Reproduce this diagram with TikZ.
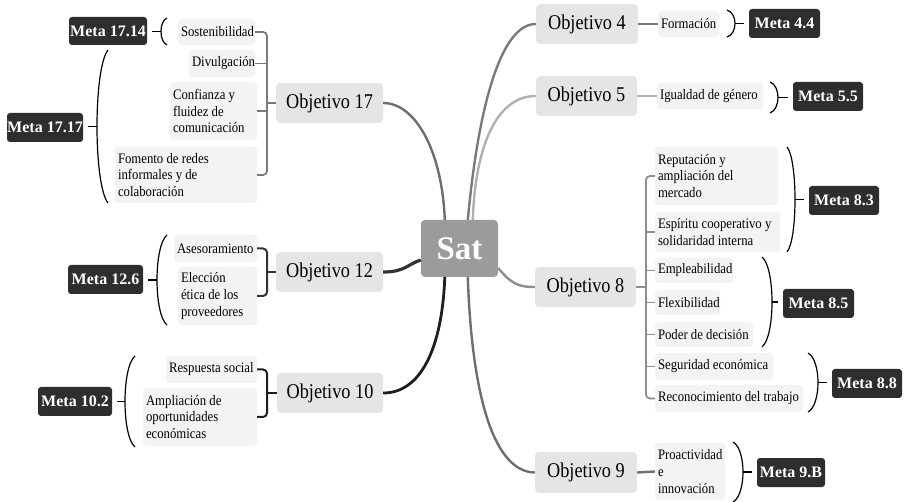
\documentclass[tikz,border=0pt]{standalone}
\usepackage{fontspec}
\setmainfont{Liberation Serif}
\newfontfamily\objfont{Liberation Serif}[FakeStretch=0.87]
\newfontfamily\leaffontfam{Liberation Serif}[FakeStretch=0.88]
\definecolor{satgray}{HTML}{9B9B9B}
\definecolor{objgray}{HTML}{E5E5E5}
\definecolor{leafgray}{HTML}{F3F3F3}
\definecolor{metadark}{HTML}{2E2E2E}
\definecolor{cA}{HTML}{6E6E6E}
\definecolor{cB}{HTML}{333333}
\definecolor{cC}{HTML}{1E1E1E}
\definecolor{cD}{HTML}{7A7A7A}
\definecolor{cE}{HTML}{B0B0B0}
\definecolor{cF}{HTML}{8E8E8E}
\newcommand\mmBrace[6]{% name, xtip, xbelly, ytop, ybot, target
  \pgfmathsetmacro\mmym{(#4+#5)/2}
  \pgfmathsetmacro\mmxc{(4*#3-#2)/3}
  \pgfmathsetmacro\mmya{#4+0.12*(#5-#4)}
  \pgfmathsetmacro\mmyb{#5-0.12*(#5-#4)}
  \coordinate (#1) at (#3,\mmym);
  \draw[bracestyle] (#2,#4) .. controls (\mmxc,\mmya) and (\mmxc,\mmyb) .. (#2,#5);
  \draw[bracestyle, shorten >=5pt] (#1) -- (#1 -| #6);
}
\tikzset{
  objbox/.style={fill=objgray, rounded corners=4pt, font=\objfont\fontsize{21}{24}\selectfont, inner sep=0pt,
    execute at begin node={\spaceskip=4.6pt\relax}},
  leaf/.style={fill=leafgray, rounded corners=3pt, inner xsep=3pt, inner ysep=0pt, align=left,
    font=\leaffontfam\fontsize{14.5}{16.7}\selectfont,
    execute at begin node={\spaceskip=3.2pt\relax\hyphenpenalty=10000\relax\exhyphenpenalty=10000\relax}},
  meta/.style={fill=metadark, rounded corners=3pt, text=white, inner sep=0pt,
    font=\bfseries\fontsize{16}{18}\selectfont},
  bracestyle/.style={draw=black, line width=1.2pt},
}
\begin{document}
\begin{tikzpicture}[x=1pt,y=-1pt]
\useasboundingbox (0,0) rectangle (905,502);
% central
\node[fill=satgray, rounded corners=4pt, text=white, font=\bfseries\fontsize{33}{36}\selectfont,
  minimum width=77pt, minimum height=57pt, inner sep=0pt] (sat) at (459.5,248.5) {Sat};
% objetivos
\node[objbox, minimum width=107pt, minimum height=40pt] (o17) at (329.5,103) {Objetivo 17};
\node[objbox, minimum width=107pt, minimum height=40pt] (o12) at (329.5,272) {Objetivo 12};
\node[objbox, minimum width=106pt, minimum height=40pt] (o10) at (330,393) {Objetivo 10};
\node[objbox, minimum width=102pt, minimum height=40pt] (o4) at (587,24) {Objetivo 4};
\node[objbox, minimum width=101pt, minimum height=40pt] (o5) at (586.5,96) {Objetivo 5};
\node[objbox, minimum width=101pt, minimum height=40pt] (o8) at (585.5,287) {Objetivo 8};
\node[objbox, minimum width=102pt, minimum height=41pt] (o9) at (586,472.5) {Objetivo 9};
% leaves left
\node[leaf, text width=71pt, minimum height=26pt] (sost) at (216.5,32) {Sostenibilidad};
\node[leaf, text width=60pt, minimum height=27pt] (div) at (222,63.5) {Divulgación};
\node[leaf, text width=81pt, minimum height=58pt] (conf) at (213.5,111) {Confianza y\\fluidez de\\comunicación};
\node[leaf, text width=136pt, minimum height=56pt] (fom) at (186,175) {Fomento de redes\\informales y de\\colaboración};
\node[leaf, text width=77pt, minimum height=27pt] (ases) at (215.5,248.5) {Asesoramiento};
\node[leaf, text width=73pt, minimum height=58pt] (elec) at (217.5,296) {Elección\\ética de los\\proveedores};
\node[leaf, text width=85pt, minimum height=27pt] (resp) at (211.5,369.5) {Respuesta~social};
\node[leaf, text width=108pt, minimum height=58pt] (ampl) at (200,417) {Ampliación de\\oportunidades\\económicas};
% leaves right
\node[leaf, text width=55pt, minimum height=26pt] (form) at (688.5,24) {Formación};
\node[leaf, text width=100pt, minimum height=26pt] (igual) at (710,96) {Igualdad~de~género};
\node[leaf, text width=117pt, minimum height=58pt] (rep) at (716.5,176) {Reputación y\\ampliación del\\mercado};
\node[leaf, text width=119pt, minimum height=40pt] (esp) at (717.5,232) {Espíritu~cooperativo~y\\solidaridad interna};
\node[leaf, text width=72pt, minimum height=25pt] (empl) at (694,270.5) {Empleabilidad};
\node[leaf, text width=59pt, minimum height=25pt] (flex) at (687.5,302.5) {Flexibilidad};
\node[leaf, text width=92pt, minimum height=25pt] (poder) at (704,334.5) {Poder~de~decisión};
\node[leaf, text width=112pt, minimum height=27pt] (seg) at (714,366.5) {Seguridad~económica};
\node[leaf, text width=142pt, minimum height=27pt] (recon) at (729,398.5) {Reconocimiento~del~trabajo};
\node[leaf, text width=64pt, minimum height=57pt] (proa) at (690,471.5) {Proactividad\\e\\innovación};
% metas
\node[meta, minimum width=78pt, minimum height=28pt] (m1714) at (108,31) {Meta 17.14};
\node[meta, minimum width=76pt, minimum height=29pt] (m1717) at (45,127.5) {Meta 17.17};
\node[meta, minimum width=75pt, minimum height=29pt] (m126) at (105.5,279.5) {Meta 12.6};
\node[meta, minimum width=74pt, minimum height=29pt] (m102) at (75,401.5) {Meta 10.2};
\node[meta, minimum width=71pt, minimum height=29pt] (m44) at (784.5,23.5) {Meta 4.4};
\node[meta, minimum width=70pt, minimum height=29pt] (m55) at (828,96.5) {Meta 5.5};
\node[meta, minimum width=70pt, minimum height=29pt] (m83) at (844,200.5) {Meta 8.3};
\node[meta, minimum width=71pt, minimum height=29pt] (m85) at (818.5,303.5) {Meta 8.5};
\node[meta, minimum width=70pt, minimum height=29pt] (m88) at (867,383.5) {Meta 8.8};
\node[meta, minimum width=68pt, minimum height=29pt] (m9B) at (791,472.5) {Meta 9.B};
% main curves
\draw[cA, line width=2.4pt] ([xshift=24pt]sat.north west) .. controls (442,150) and (415,103) .. (o17.east);
\draw[cB, line width=3.2pt] ([yshift=-11.5pt]sat.west) .. controls (408,264) and (405,272) .. (o12.east);
\draw[cC, line width=2.8pt] ([xshift=24pt]sat.south west) .. controls (442,350) and (420,393) .. (o10.east);
\draw[cD, line width=2.4pt] ([xshift=47pt]sat.north west) .. controls (478,110) and (500,24) .. (o4.west);
\draw[cE, line width=2.4pt] ([xshift=52pt]sat.north west) .. controls (475,150) and (495,96) .. (o5.west);
\draw[cF, line width=2.4pt] ([yshift=-19.5pt]sat.east) .. controls (512,285) and (520,287) .. (o8.west);
\draw[cA, line width=2.4pt] ([xshift=47pt]sat.south west) .. controls (472,400) and (495,472) .. (o9.west);
% brackets left
\coordinate (k17) at (267,103);
\draw[cD, line width=1.8pt, rounded corners=4pt] (sost.east) -| (k17) |- (fom.east);
\draw[cD, line width=1.8pt] (div.east) -- (div.east -| k17);
\draw[cD, line width=1.8pt] (conf.east) -- (conf.east -| k17);
\draw[cD, line width=1.8pt] (o17.west) -- (k17);
\coordinate (k12) at (267,272);
\draw[cB, line width=2pt, rounded corners=4pt] (ases.east) -| (k12) |- (elec.east);
\draw[cB, line width=2pt] (o12.west) -- (k12);
\coordinate (k10) at (267,393);
\draw[cC, line width=2pt, rounded corners=4pt] (resp.east) -| (k10) |- (ampl.east);
\draw[cC, line width=2pt] (o10.west) -- (k10);
% brackets right
\coordinate (k8) at (646,287);
\draw[cF, line width=1.8pt, rounded corners=4pt] (rep.west) -| (k8) |- (recon.west);
\foreach \n in {esp,empl,flex,poder,seg} \draw[cF, line width=1.8pt] (\n.west) -- (\n.west -| k8);
\draw[cF, line width=1.8pt] (o8.east) -- (k8);
\draw[cD, line width=2.4pt] (o4.east) -- (form.west);
\draw[cE, line width=2.4pt] (o5.east) -- (igual.west);
\draw[cA, line width=2.4pt] (o9.east) -- (proa.west);
% braces
\mmBrace{b1714}{167}{161}{18}{45}{m1714.east}
\mmBrace{b1717}{108}{97}{50}{203}{m1717.east}
\mmBrace{b126}{167}{157}{235}{325}{m126.east}
\mmBrace{b102}{135}{125}{356}{447}{m102.east}
\mmBrace{b44}{727}{735}{10}{37}{m44.west}
\mmBrace{b55}{770}{778}{82}{113}{m55.west}
\mmBrace{b83}{787}{795}{147}{252}{m83.west}
\mmBrace{b85}{762}{772}{257}{347}{m85.west}
\mmBrace{b88}{808}{818}{353}{412}{m88.west}
\mmBrace{b9B}{733}{743}{442}{502}{m9B.west}
\end{tikzpicture}
\end{document}
